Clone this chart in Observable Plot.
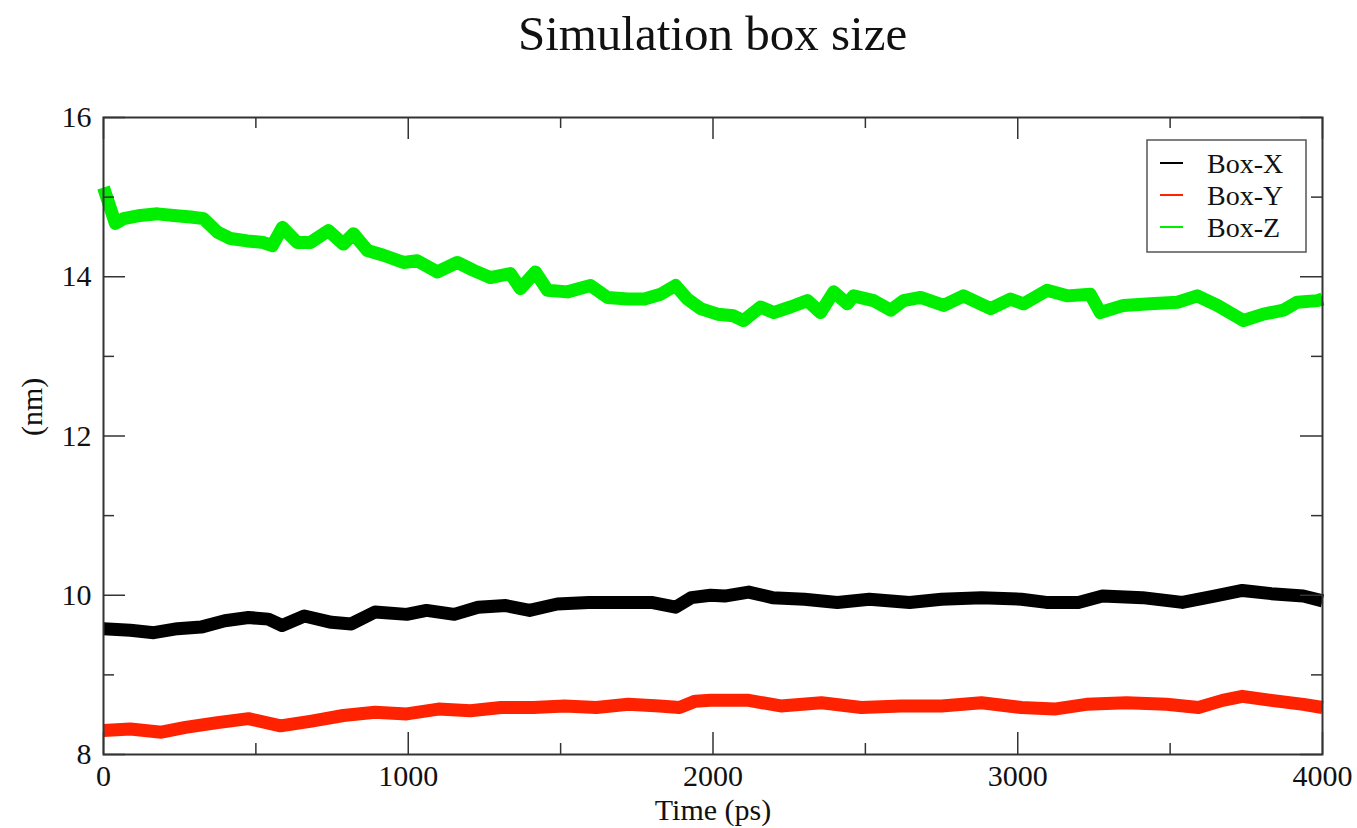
<!DOCTYPE html>
<html>
<head>
<meta charset="utf-8">
<script src="https://cdn.jsdelivr.net/npm/d3@7"></script>
<script src="https://cdn.jsdelivr.net/npm/@observablehq/plot@0.6"></script>
<style>
  html, body { margin: 0; padding: 0; background: #fff; }
  #title { box-sizing: border-box; height: 70px; padding-top: 9px; padding-left: 103px; width: 1322px;
           font-family: "Liberation Serif", serif; font-size: 49px; line-height: 1; text-align: center; color: #111; }
  #chart svg { display: block; }
</style>
</head>
<body>
<div id="title">Simulation box size</div>
<div id="chart"></div>
<script>
// ---- data ----
const seriesNames = ["Box-X", "Box-Y", "Box-Z"];
const seriesColors = ["#000000", "#ff2200", "#00ee00"];

const boxXTime = [0, 88, 165, 243, 320, 398, 476, 541, 586, 659, 748, 813, 891, 995, 1060, 1151, 1229, 1320, 1398, 1489, 1592, 1696, 1798, 1877, 1929, 1992, 2038, 2117, 2195, 2300, 2408, 2513, 2645, 2750, 2881, 3012, 3094, 3199, 3278, 3409, 3540, 3645, 3737, 3832, 3937, 4000];
const boxXVals = [9.58, 9.56, 9.53, 9.58, 9.60, 9.68, 9.72, 9.70, 9.62, 9.74, 9.66, 9.64, 9.79, 9.76, 9.81, 9.76, 9.85, 9.87, 9.81, 9.89, 9.91, 9.91, 9.91, 9.85, 9.97, 10.00, 9.99, 10.04, 9.97, 9.95, 9.91, 9.95, 9.91, 9.95, 9.97, 9.95, 9.91, 9.91, 9.99, 9.97, 9.91, 9.99, 10.06, 10.02, 9.99, 9.93];

const boxYTime = [0, 88, 190, 269, 374, 476, 581, 683, 787, 891, 995, 1099, 1204, 1304, 1411, 1513, 1617, 1722, 1824, 1890, 1942, 1992, 2038, 2117, 2222, 2356, 2487, 2618, 2750, 2881, 3012, 3120, 3225, 3357, 3488, 3593, 3672, 3737, 3832, 3937, 4000];
const boxYVals = [8.30, 8.32, 8.28, 8.34, 8.40, 8.45, 8.36, 8.42, 8.49, 8.53, 8.51, 8.57, 8.55, 8.59, 8.59, 8.61, 8.59, 8.63, 8.61, 8.59, 8.67, 8.68, 8.68, 8.68, 8.61, 8.65, 8.59, 8.61, 8.61, 8.65, 8.59, 8.57, 8.63, 8.65, 8.63, 8.59, 8.68, 8.73, 8.68, 8.63, 8.59];

const boxZTime = [0, 39, 66, 121, 177, 230, 286, 328, 374, 417, 472, 525, 554, 587, 636, 679, 738, 787, 820, 866, 919, 984, 1030, 1096, 1161, 1214, 1269, 1335, 1368, 1417, 1457, 1522, 1598, 1654, 1720, 1775, 1828, 1877, 1916, 1959, 2015, 2067, 2100, 2156, 2199, 2254, 2310, 2353, 2396, 2441, 2461, 2527, 2583, 2625, 2681, 2757, 2822, 2911, 2976, 3019, 3096, 3162, 3238, 3271, 3347, 3435, 3524, 3589, 3655, 3741, 3806, 3872, 3917, 3983, 4000];
const boxZVals = [15.12, 14.67, 14.73, 14.77, 14.79, 14.77, 14.75, 14.73, 14.56, 14.48, 14.45, 14.43, 14.39, 14.62, 14.43, 14.43, 14.58, 14.41, 14.54, 14.33, 14.27, 14.18, 14.20, 14.06, 14.18, 14.08, 13.99, 14.04, 13.85, 14.06, 13.83, 13.81, 13.89, 13.74, 13.72, 13.72, 13.78, 13.89, 13.72, 13.60, 13.53, 13.51, 13.45, 13.62, 13.55, 13.62, 13.70, 13.55, 13.81, 13.66, 13.76, 13.70, 13.58, 13.70, 13.74, 13.64, 13.76, 13.60, 13.72, 13.66, 13.83, 13.76, 13.78, 13.55, 13.64, 13.66, 13.68, 13.76, 13.64, 13.45, 13.53, 13.58, 13.68, 13.70, 13.72];

const xMajorTicks = [0, 1000, 2000, 3000, 4000];
const xMinorTicks = [500, 1500, 2500, 3500];
const yMajorTicks = [8, 10, 12, 14, 16];
const yMinorTicks = [9, 11, 13, 15];
const xLabel = "Time (ps)";
const yLabel = "(nm)";

// ---- build table ----
const rows = [];
[[boxXTime, boxXVals], [boxYTime, boxYVals], [boxZTime, boxZVals]].forEach(([ts, vs], i) => {
  ts.forEach((t, j) => rows.push({series: seriesNames[i], t, v: vs[j]}));
});

const W = 1357, H = 758, mL = 103, mR = 35, mT = 47, mB = 74;
const innerW = W - mL - mR, innerH = H - mT - mB;
const font = "'Liberation Serif', 'Times New Roman', serif";
const axisColor = "#333";
const fs = 30;

const plot = Plot.plot({
  width: W, height: H,
  marginLeft: mL, marginRight: mR, marginTop: mT, marginBottom: mB,
  style: {fontFamily: font, fontSize: fs + "px", color: "#111", background: "#fff"},
  x: {domain: [0, 4000]},
  y: {domain: [8, 16]},
  color: {domain: seriesNames, range: seriesColors},
  marks: [
    Plot.line(rows, {x: "t", y: "v", z: "series", stroke: "series", strokeWidth: 13, strokeLinejoin: "round", strokeLinecap: "butt"}),
    // inward ticks on all four sides
    Plot.tickX(xMajorTicks, {x: d => d, insetTop: innerH - 22, stroke: axisColor, strokeWidth: 1.5}),
    Plot.tickX(xMinorTicks, {x: d => d, insetTop: innerH - 11, stroke: axisColor, strokeWidth: 1.5}),
    Plot.tickX(xMajorTicks, {x: d => d, insetBottom: innerH - 22, stroke: axisColor, strokeWidth: 1.5}),
    Plot.tickX(xMinorTicks, {x: d => d, insetBottom: innerH - 11, stroke: axisColor, strokeWidth: 1.5}),
    Plot.tickY(yMajorTicks, {y: d => d, insetRight: innerW - 22, stroke: axisColor, strokeWidth: 1.5}),
    Plot.tickY(yMinorTicks, {y: d => d, insetRight: innerW - 11, stroke: axisColor, strokeWidth: 1.5}),
    Plot.tickY(yMajorTicks, {y: d => d, insetLeft: innerW - 22, stroke: axisColor, strokeWidth: 1.5}),
    Plot.tickY(yMinorTicks, {y: d => d, insetLeft: innerW - 11, stroke: axisColor, strokeWidth: 1.5}),
    Plot.axisX({ticks: xMajorTicks, tickSize: 0, tickPadding: 10, tickFormat: d3.format("d"), label: null, fontSize: fs}),
    Plot.axisY({ticks: yMajorTicks, tickSize: 0, tickPadding: 12, tickFormat: d3.format("d"), label: null, fontSize: fs}),
    Plot.text([xLabel], {text: d => d, frameAnchor: "bottom", dy: 56, fontSize: fs, lineAnchor: "middle"}),
    Plot.text([yLabel], {text: d => d, frameAnchor: "left", dx: -71, rotate: -90, fontSize: fs, lineAnchor: "middle"}),
    Plot.frame({stroke: axisColor, strokeWidth: 2})
  ]
});

// legend box (top-right, inside frame)
const svg = d3.select(plot);
const lg = svg.append("g").attr("transform", `translate(1147, ${140 - 70})`);
lg.append("rect").attr("x", 0).attr("y", 0).attr("width", 159).attr("height", 112)
  .attr("fill", "#fff").attr("stroke", "#555").attr("stroke-width", 1.5);
seriesNames.forEach((name, i) => {
  const yy = 23 + i * 32;
  lg.append("line").attr("x1", 13).attr("x2", 36).attr("y1", yy).attr("y2", yy)
    .attr("stroke", seriesColors[i]).attr("stroke-width", 2);
  lg.append("text").attr("x", 60).attr("y", yy).attr("dy", "0.34em")
    .attr("text-anchor", "start")
    .attr("font-family", font).attr("font-size", 28).attr("fill", "#111").text(name);
});

document.getElementById("chart").appendChild(plot);
</script>
</body>
</html>
